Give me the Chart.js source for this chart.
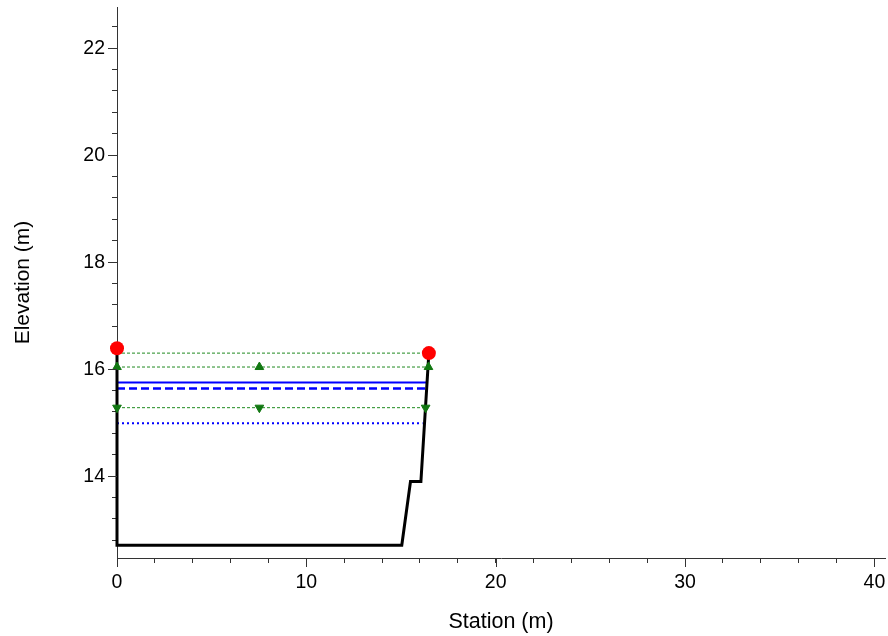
<!DOCTYPE html>
<html>
<head>
<meta charset="utf-8">
<script src="https://cdn.jsdelivr.net/npm/chart.js@4/dist/chart.umd.min.js"></script>
<style>
  html, body { margin: 0; padding: 0; background: #fff; }
  #wrap { width: 888px; height: 636px; }
</style>
</head>
<body>
<div id="wrap"><canvas id="xsChart"></canvas></div>
<script>
// cross-section ground profile
const groundStation = [0, 0, 15.04, 15.5, 16.05, 16.47];
const groundElev = [16.39, 12.71, 12.71, 13.9, 13.9, 16.3];

// bank points
const bankStation = [0, 16.47];
const bankElev = [16.39, 16.3];

// horizontal water levels (start at station 0)
const levelElev = [16.30, 16.04, 15.75, 15.64, 15.28, 14.99];
const levelEnd = [16.47, 16.45, 16.42, 16.4, 16.3, 16.13];

// triangle markers
const upMarkStation = [0, 7.52, 16.45];
const upMarkElev = 16.04;
const downMarkStation = [0, 7.52, 16.3];
const downMarkElev = 15.28;

const xMajor = 10;
const yMajor = 2;

const GREEN = '#1f8a1f';
const BLUE = '#0000ff';

function pts(xs, ys) {
  return xs.map((x, i) => ({ x: x, y: Array.isArray(ys) ? ys[i] : ys }));
}

const levelStyles = [
  { color: GREEN, width: 1, dash: [3, 2] },
  { color: GREEN, width: 1, dash: [3, 2] },
  { color: BLUE, width: 2, dash: [] },
  { color: BLUE, width: 2.5, dash: [8, 4] },
  { color: GREEN, width: 1, dash: [3, 2] },
  { color: BLUE, width: 2, dash: [2, 3] }
];

const datasets = [];

levelElev.forEach((e, i) => {
  const st = levelStyles[i];
  datasets.push({
    data: pts([0, levelEnd[i]], e),
    showLine: true,
    borderColor: st.color,
    borderWidth: st.width,
    borderDash: st.dash,
    pointRadius: 0,
    order: 5
  });
});

datasets.push({
  data: pts(groundStation, groundElev),
  showLine: true,
  borderColor: '#000',
  borderWidth: 3,
  pointRadius: 0,
  order: 4,
  clip: false
});

datasets.push({
  data: pts(upMarkStation, upMarkElev),
  pointStyle: 'triangle',
  pointRadius: 5,
  backgroundColor: '#117711',
  borderColor: '#117711',
  borderWidth: 1,
  order: 2,
  clip: false
});

datasets.push({
  data: pts(downMarkStation, downMarkElev),
  pointStyle: 'triangle',
  rotation: 180,
  pointRadius: 5,
  backgroundColor: '#117711',
  borderColor: '#117711',
  borderWidth: 1,
  order: 2,
  clip: false
});

datasets.push({
  data: pts(bankStation, bankElev),
  pointStyle: 'circle',
  pointRadius: 7,
  backgroundColor: '#ff0000',
  borderColor: '#ff0000',
  borderWidth: 0,
  order: 1,
  clip: false
});

// longer tick marks at labelled values
const majorTicks = {
  id: 'majorTicks',
  afterDraw(chart) {
    const ctx = chart.ctx;
    const xs = chart.scales.x;
    const ys = chart.scales.y;
    ctx.save();
    ctx.strokeStyle = '#333';
    ctx.lineWidth = 1;
    xs.ticks.forEach(t => {
      if (Math.abs(t.value / xMajor - Math.round(t.value / xMajor)) < 1e-6) {
        const px = Math.round(xs.getPixelForValue(t.value)) + 0.5;
        ctx.beginPath();
        ctx.moveTo(px, xs.top);
        ctx.lineTo(px, xs.top + 9);
        ctx.stroke();
      }
    });
    ys.ticks.forEach(t => {
      if (Math.abs(t.value / yMajor - Math.round(t.value / yMajor)) < 1e-6) {
        const py = Math.round(ys.getPixelForValue(t.value)) + 0.5;
        ctx.beginPath();
        ctx.moveTo(ys.right, py);
        ctx.lineTo(ys.right - 9, py);
        ctx.stroke();
      }
    });
    ctx.restore();
  }
};

const font = 'Liberation Sans, Arial, sans-serif';

new Chart(document.getElementById('xsChart'), {
  type: 'scatter',
  data: { datasets: datasets },
  plugins: [majorTicks],
  options: {
    responsive: true,
    maintainAspectRatio: false,
    animation: false,
    layout: { autoPadding: false, padding: { top: 7, right: 3, left: 0, bottom: 0 } },
    plugins: {
      legend: { display: false },
      tooltip: { enabled: false }
    },
    scales: {
      x: {
        type: 'linear',
        min: 0,
        max: 40.56,
        afterFit: s => { s.height = 78; s.paddingLeft = 0; s.paddingRight = 0; },
        border: { display: true, color: '#333', width: 1 },
        grid: { drawOnChartArea: false, drawTicks: true, tickLength: 5, tickColor: '#333' },
        ticks: {
          stepSize: 2,
          includeBounds: false,
          autoSkip: false,
          maxRotation: 0,
          padding: 8,
          color: '#000',
          font: { family: font, size: 19.5 },
          callback: v => (Math.abs(v / xMajor - Math.round(v / xMajor)) < 1e-6 ? String(Math.round(v)) : '')
        },
        title: {
          display: true,
          text: 'Station (m)',
          color: '#000',
          font: { family: font, size: 21.5 },
          padding: { top: 0, bottom: 1 }
        }
      },
      y: {
        type: 'linear',
        min: 12.47,
        max: 22.77,
        afterFit: s => { s.width = 117; s.paddingTop = 0; s.paddingBottom = 0; },
        border: { display: true, color: '#333', width: 1 },
        grid: { drawOnChartArea: false, drawTicks: true, tickLength: 5, tickColor: '#333' },
        ticks: {
          stepSize: 0.4,
          includeBounds: false,
          autoSkip: false,
          padding: 7,
          color: '#000',
          font: { family: font, size: 19.5 },
          callback: v => (Math.abs(v / yMajor - Math.round(v / yMajor)) < 1e-6 ? String(Math.round(v)) : '')
        },
        title: {
          display: true,
          text: 'Elevation (m)',
          color: '#000',
          font: { family: font, size: 21 },
          padding: { top: 11, bottom: 0 }
        }
      }
    }
  }
});
</script>
</body>
</html>
